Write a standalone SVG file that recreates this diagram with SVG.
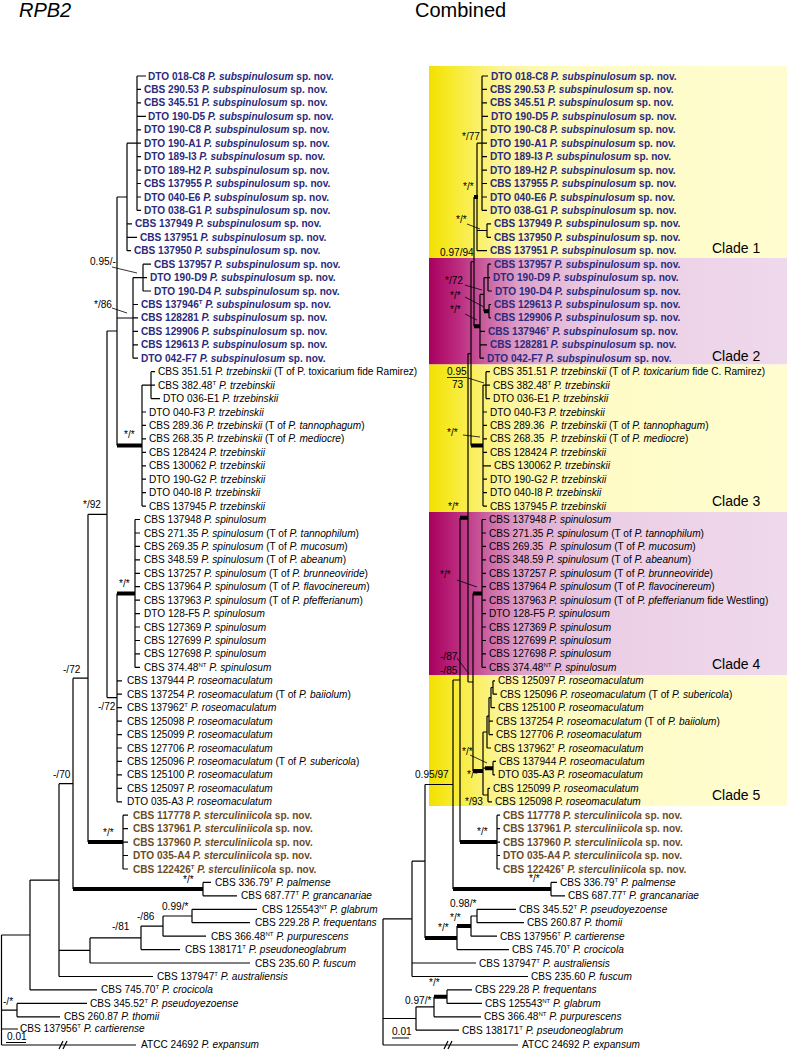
<svg xmlns="http://www.w3.org/2000/svg" width="787" height="1051" viewBox="0 0 787 1051">
<style>
.t{font-family:"Liberation Sans",Arial,sans-serif;font-size:10.1px;fill:#000}
.bl{font-weight:bold;fill:#2b2a7c}
.br{font-weight:bold;fill:#6d4c1f}
.i{font-style:italic}
.sp{font-size:6px}
.ttl{font-family:"Liberation Sans",Arial,sans-serif;font-size:20px;fill:#000}
.cl{font-family:"Liberation Sans",Arial,sans-serif;font-size:14px;fill:#000}
.e{stroke:#000;stroke-width:1.2;fill:none}
.k{stroke:#000;stroke-width:4;fill:none}
.ld{stroke:#000;stroke-width:0.8;fill:none}
</style>
<defs>
<linearGradient id="gy" gradientUnits="userSpaceOnUse" x1="429" y1="0" x2="787" y2="0">
<stop offset="0" stop-color="#f2e000"/><stop offset="0.06" stop-color="#f7ea2a"/><stop offset="0.2" stop-color="#fcf59a"/><stop offset="0.4" stop-color="#fefbc4"/><stop offset="1" stop-color="#fffdd0"/>
</linearGradient>
<linearGradient id="gm" gradientUnits="userSpaceOnUse" x1="429" y1="0" x2="787" y2="0">
<stop offset="0" stop-color="#a8005f"/><stop offset="0.08" stop-color="#bb2a7e"/><stop offset="0.25" stop-color="#dca0c8"/><stop offset="0.45" stop-color="#ebcde4"/><stop offset="1" stop-color="#efd9ec"/>
</linearGradient>
</defs>
<rect width="787" height="1051" fill="#fff"/>
<g id="bands">
<rect x="429" y="66" width="358" height="192" fill="url(#gy)"/>
<rect x="429" y="258" width="358" height="106.5" fill="url(#gm)"/>
<rect x="429" y="364.5" width="358" height="147.5" fill="url(#gy)"/>
<rect x="429" y="512" width="358" height="163" fill="url(#gm)"/>
<rect x="429" y="675" width="358" height="131" fill="url(#gy)"/>
</g>
<g id="titles">
<text class="ttl i" x="19" y="17">RPB2</text>
<text class="ttl" x="415" y="17">Combined</text>
<text class="cl" x="712" y="253">Clade 1</text>
<text class="cl" x="712" y="361">Clade 2</text>
<text class="cl" x="712" y="506">Clade 3</text>
<text class="cl" x="712" y="669">Clade 4</text>
<text class="cl" x="712" y="800">Clade 5</text>
</g>
<g id="connectors">
<path class="e" d="M137 76V210.4M137 76H146M137 89.4H141M137 102.9H141M137 116.3H146M137 129.8H141M137 143.2H141M137 156.6H141M137 170.1H141M137 183.5H141M137 197H141M137 210.4H141M127 143.2H137
M127 143.2V250.7M127 223.8H132M127 237.3H137M127 250.7H131M117 197H127
M143 264.2V291M143 264.2H151M143 277.6H147M143 291H151M133 277.6H143
M133 277.6V358.2M133 304.5H138M133 317.9H138M133 331.4H138M133 344.8H138M133 358.2H138M117 318H133
M151 371.7V398.6M151 371.7H155M151 385.1H155M151 398.6H160M142 385.1H151
M142 385.1V506.1M142 412H146M142 425.4H146M142 438.9H146M142 452.3H146M142 465.8H146M142 479.2H146M142 492.6H146M142 506.1H146
M117 197V445.6M107 331H117
M135 519.5V667.4M135 533H140M135 546.4H140M135 559.8H140M135 573.3H140M135 586.7H140M135 600.2H140M135 613.6H140M135 627H140M135 640.5H140M135 653.9H140M135 667.4H140M135 519.5H140
M117 593.4V801.8M117 680.8H122M117 694.2H122M117 707.7H122M117 721.1H122M117 734.6H122M117 748H122M117 761.4H122M117 774.9H122M117 788.3H122M117 801.8H122M107 697.6H117
M107 331V697.6M88 514.3H107
M123 815.2V869M123 815.2H128M123 828.6H128M123 842.1H128M123 855.5H128M123 869H128
M88 514.3V842.1M73 678.2H88
M203 882.4V895.8M203 882.4H211M203 895.8H237
M73 678.2V889.1M59 783.7H73
M192 909.3V922.7M192 909.3H257M192 922.7H250
M163 916V936.2M163 916H192M163 936.2H206
M141 926.1V949.6M141 926.1H163M141 949.6H180
M90 937.9V963M90 937.9H141M90 963H250
M59 783.7V976.5M59 950.4H90M59 976.5H153
M30 880.1V989.9M30 880.1H59M30 989.9H97
M17 1003.4V1016.8M17 1003.4H87M17 1016.8H60
M1.5 935V1045M1.5 935H30M1.5 1010.1H17M1.5 1029H18M1.5 1045H136
M59 1049L63 1041M63 1049L67 1041M6 1042.5H26"/>
<path class="k" d="M117 445.6H142M117 593.4H135M88 842.1H123M73 889.1H203"/>
<path class="e" d="M482 76V210.4M482 76H488M482 89.4H487M482 102.9H487M482 116.3H488M482 129.8H487M482 143.2H487M482 156.6H487M482 170.1H487M482 183.5H487M482 197H487M482 210.4H487M477 143.2H482
M487 223.8V237.3M487 223.8H491M487 237.3H491M477 230.5H487
M477 143.2V250.7M477 250.7H487
M488 264.2V291M488 264.2H491M488 277.6H490M488 291H492M484 277.6H488
M489 304.5V317.9M489 304.5H491M489 317.9H491
M484 277.6V311.2M480 294.4H484
M480 294.4V358.2M480 331.4H485M480 344.8H487M480 358.2H484
M474 197V326.3M471 261.7H474
M486 371.7V398.6M486 371.7H490M486 385.1H490M486 398.6H490M483 385.1H486
M483 385.1V506.1M483 412H487M483 425.4H487M483 438.9H487M483 452.3H487M483 465.8H491M483 479.2H487M483 492.6H487M483 506.1H487
M471 261.7V445.6M468 353.6H471
M482 519.5V667.4M482 519.5H486M482 533H486M482 546.4H486M482 559.8H486M482 573.3H486M482 586.7H486M482 600.2H486M482 613.6H486M482 627H486M482 640.5H486M482 653.9H486M482 667.4H486
M493 680.8V694.2M493 680.8H495M493 694.2H497M491 687.5H493
M491 687.5V707.7M491 707.7H495M489 697.6H491
M489 697.6V734.6M489 721.1H493M489 734.6H493M487 716.1H489
M487 716.1V748M487 748H491M483 732H487
M493 761.4V774.9M493 761.4H496M493 774.9H495M483 768.2H485
M488 788.3V801.8M488 788.3H490M488 801.8H492M483 795H488
M483 732V795
M473 593.4V771M468 682H473
M468 353.6V682
M497 815.2V869M497 815.2H500M497 828.6H500M497 842.1H500M497 855.5H500M497 869H500
M460 517.8V842.1M453 680H460
M551 882.4V895.8M551 882.4H557M551 895.8H565
M453 680V889.1M425 784.5H453
M477 909.3V922.7M477 909.3H516M477 922.7H524
M471 916V936.2M471 916H477M471 936.2H497
M457 926.1V949.6M457 949.6H509
M425 784.5V937.9M412 861.2H425
M412 861.2V976.5M412 963H476M412 976.5H528M383 918.9H412
M447 989.9V1003.4M447 989.9H472M447 1003.4H482
M434 996.7V1016.8M434 1016.8H481M416 1006.8H434
M416 1006.8V1030.2M416 1030.2H459M383 1018.5H416
M383 918.9V1045M383 1045H518
M444 1049L448 1041M448 1049L452 1041M392 1038H409"/>
<path class="k" d="M474 197H478M484 311.2H489M474 326.3H480M471 445.6H483M473 593.4H482M485 768.2H493M473 771H483M460 517.8H468M460 842.1H497M453 889.1H551M457 926.1H471M425 937.9H457M434 996.7H447"/>
<path class="ld" d="M112 267L137 273M112 308L127 313M467 224L480 229M465 285L482 290M465 297L484 307M465 314L477 320M468 378L484 383M463 435L480 437M457 580L477 587M457 658L469 674M470 755L487 763"/>
</g>
<g id="supports" class="t">
<text x="90" y="265">0.95/-</text>
<text x="94" y="308">*/86</text>
<text x="124" y="438">*/*</text>
<text x="83" y="508">*/92</text>
<text x="119" y="587">*/*</text>
<text x="63" y="673">-/72</text>
<text x="98" y="710">-/72</text>
<text x="53" y="778">-/70</text>
<text x="103" y="836">*/*</text>
<text x="183" y="883">*/*</text>
<text x="162" y="910">0.99/*</text>
<text x="137" y="920">-/86</text>
<text x="112" y="930">-/81</text>
<text x="3" y="1005">-/*</text>
<text x="7" y="1040">0.01</text>
<text x="462" y="140">*/77</text>
<text x="463" y="190">*/*</text>
<text x="456" y="223">*/*</text>
<text x="440" y="256">0.97/94</text>
<text x="445" y="284">*/72</text>
<text x="450" y="299">*/*</text>
<text x="450" y="313">*/*</text>
<text x="447" y="375">0.95</text>
<path class="ld" d="M447 377.5H467"/>
<text x="452" y="388">73</text>
<text x="447" y="436">*/*</text>
<text x="448" y="510">*/*</text>
<text x="440" y="578">*/*</text>
<text x="440" y="660">-/87</text>
<text x="440" y="674">-/85</text>
<text x="462" y="755">*/*</text>
<text x="415" y="778">0.95/97</text>
<text x="467" y="778">*/*</text>
<text x="465" y="805">*/93</text>
<text x="477" y="835">*/*</text>
<text x="529" y="882">*/*</text>
<text x="450" y="907">0.98/*</text>
<text x="450" y="921">*/*</text>
<text x="438" y="931">*/*</text>
<text x="429" y="986">*/*</text>
<text x="405" y="1004">0.97/*</text>
<text x="392" y="1035">0.01</text>
</g>
<g id="left-taxa">
<g id="L00"><text class="t bl" x="148" y="79.5">DTO 018-C8 <tspan class="i">P. subspinulosum</tspan> sp. nov.</text></g>
<g id="L01"><text class="t bl" x="144" y="92.9">CBS 290.53 <tspan class="i">P. subspinulosum</tspan> sp. nov.</text></g>
<g id="L02"><text class="t bl" x="144" y="106.4">CBS 345.51 <tspan class="i">P. subspinulosum</tspan> sp. nov.</text></g>
<g id="L03"><text class="t bl" x="148" y="119.8">DTO 190-D5 <tspan class="i">P. subspinulosum</tspan> sp. nov.</text></g>
<g id="L04"><text class="t bl" x="144" y="133.3">DTO 190-C8 <tspan class="i">P. subspinulosum</tspan> sp. nov.</text></g>
<g id="L05"><text class="t bl" x="144" y="146.7">DTO 190-A1 <tspan class="i">P. subspinulosum</tspan> sp. nov.</text></g>
<g id="L06"><text class="t bl" x="144" y="160.1">DTO 189-I3 <tspan class="i">P. subspinulosum</tspan> sp. nov.</text></g>
<g id="L07"><text class="t bl" x="144" y="173.6">DTO 189-H2 <tspan class="i">P. subspinulosum</tspan> sp. nov.</text></g>
<g id="L08"><text class="t bl" x="144" y="187">CBS 137955 <tspan class="i">P. subspinulosum</tspan> sp. nov.</text></g>
<g id="L09"><text class="t bl" x="144" y="200.5">DTO 040-E6 <tspan class="i">P. subspinulosum</tspan> sp. nov.</text></g>
<g id="L10"><text class="t bl" x="144" y="213.9">DTO 038-G1 <tspan class="i">P. subspinulosum</tspan> sp. nov.</text></g>
<g id="L11"><text class="t bl" x="135" y="227.3">CBS 137949 <tspan class="i">P. subspinulosum</tspan> sp. nov.</text></g>
<g id="L12"><text class="t bl" x="140" y="240.8">CBS 137951 <tspan class="i">P. subspinulosum</tspan> sp. nov.</text></g>
<g id="L13"><text class="t bl" x="134" y="254.2">CBS 137950 <tspan class="i">P. subspinulosum</tspan> sp. nov.</text></g>
<g id="L14"><text class="t bl" x="154" y="267.7">CBS 137957 <tspan class="i">P. subspinulosum</tspan> sp. nov.</text></g>
<g id="L15"><text class="t bl" x="150" y="281.1">DTO 190-D9 <tspan class="i">P. subspinulosum</tspan> sp. nov.</text></g>
<g id="L16"><text class="t bl" x="154" y="294.5">DTO 190-D4 <tspan class="i">P. subspinulosum</tspan> sp. nov.</text></g>
<g id="L17"><text class="t bl" x="141" y="308">CBS 137946<tspan class="sp" dy="-4">T</tspan><tspan dy="4"> <tspan class="i">P. subspinulosum</tspan> sp. nov.</tspan></text></g>
<g id="L18"><text class="t bl" x="141" y="321.4">CBS 128281 <tspan class="i">P. subspinulosum</tspan> sp. nov.</text></g>
<g id="L19"><text class="t bl" x="141" y="334.9">CBS 129906 <tspan class="i">P. subspinulosum</tspan> sp. nov.</text></g>
<g id="L20"><text class="t bl" x="141" y="348.3">CBS 129613 <tspan class="i">P. subspinulosum</tspan> sp. nov.</text></g>
<g id="L21"><text class="t bl" x="141" y="361.7">DTO 042-F7 <tspan class="i">P. subspinulosum</tspan> sp. nov.</text></g>
<g id="L22"><text class="t" x="158" y="375.2">CBS 351.51 <tspan class="i">P. trzebinskii</tspan> (T of P. toxicarium fide Ramirez)</text></g>
<g id="L23"><text class="t" x="158" y="388.6">CBS 382.48<tspan class="sp" dy="-4">T</tspan><tspan dy="4"> <tspan class="i">P. trzebinskii</tspan></tspan></text></g>
<g id="L24"><text class="t" x="163" y="402.1">DTO 036-E1 <tspan class="i">P. trzebinskii</tspan></text></g>
<g id="L25"><text class="t" x="149" y="415.5">DTO 040-F3 <tspan class="i">P. trzebinskii</tspan></text></g>
<g id="L26"><text class="t" x="149" y="428.9">CBS 289.36 <tspan class="i">P. trzebinskii</tspan> (T of <tspan class="i">P. tannophagum</tspan>)</text></g>
<g id="L27"><text class="t" x="149" y="442.4">CBS 268.35 <tspan class="i">P. trzebinskii</tspan> (T of <tspan class="i">P. mediocre</tspan>)</text></g>
<g id="L28"><text class="t" x="149" y="455.8">CBS 128424 <tspan class="i">P. trzebinskii</tspan></text></g>
<g id="L29"><text class="t" x="149" y="469.3">CBS 130062 <tspan class="i">P. trzebinskii</tspan></text></g>
<g id="L30"><text class="t" x="149" y="482.7">DTO 190-G2 <tspan class="i">P. trzebinskii</tspan></text></g>
<g id="L31"><text class="t" x="149" y="496.1">DTO 040-I8 <tspan class="i">P. trzebinskii</tspan></text></g>
<g id="L32"><text class="t" x="149" y="509.6">CBS 137945 <tspan class="i">P. trzebinskii</tspan></text></g>
<g id="L33"><text class="t" x="144" y="523">CBS 137948 <tspan class="i">P. spinulosum</tspan></text></g>
<g id="L34"><text class="t" x="144" y="536.5">CBS 271.35 <tspan class="i">P. spinulosum</tspan> (T of <tspan class="i">P. tannophilum</tspan>)</text></g>
<g id="L35"><text class="t" x="144" y="549.9">CBS 269.35 <tspan class="i">P. spinulosum</tspan> (T of <tspan class="i">P. mucosum</tspan>)</text></g>
<g id="L36"><text class="t" x="144" y="563.3">CBS 348.59 <tspan class="i">P. spinulosum</tspan> (T of <tspan class="i">P. abeanum</tspan>)</text></g>
<g id="L37"><text class="t" x="144" y="576.8">CBS 137257 <tspan class="i">P. spinulosum</tspan> (T of <tspan class="i">P. brunneoviride</tspan>)</text></g>
<g id="L38"><text class="t" x="144" y="590.2">CBS 137964 <tspan class="i">P. spinulosum</tspan> (T of <tspan class="i">P. flavocinereum</tspan>)</text></g>
<g id="L39"><text class="t" x="144" y="603.7">CBS 137963 <tspan class="i">P. spinulosum</tspan> (T of <tspan class="i">P. pfefferianum</tspan>)</text></g>
<g id="L40"><text class="t" x="144" y="617.1">DTO 128-F5 <tspan class="i">P. spinulosum</tspan></text></g>
<g id="L41"><text class="t" x="144" y="630.5">CBS 127369 <tspan class="i">P. spinulosum</tspan></text></g>
<g id="L42"><text class="t" x="144" y="644">CBS 127699 <tspan class="i">P. spinulosum</tspan></text></g>
<g id="L43"><text class="t" x="144" y="657.4">CBS 127698 <tspan class="i">P. spinulosum</tspan></text></g>
<g id="L44"><text class="t" x="144" y="670.9">CBS 374.48<tspan class="sp" dy="-4">NT</tspan><tspan dy="4"> <tspan class="i">P. spinulosum</tspan></tspan></text></g>
<g id="L45"><text class="t" x="127" y="684.3">CBS 137944 <tspan class="i">P. roseomaculatum</tspan></text></g>
<g id="L46"><text class="t" x="127" y="697.7">CBS 137254 <tspan class="i">P. roseomaculatum</tspan> (T of <tspan class="i">P. baiiolum</tspan>)</text></g>
<g id="L47"><text class="t" x="127" y="711.2">CBS 137962<tspan class="sp" dy="-4">T</tspan><tspan dy="4"> <tspan class="i">P. roseomaculatum</tspan></tspan></text></g>
<g id="L48"><text class="t" x="127" y="724.6">CBS 125098 <tspan class="i">P. roseomaculatum</tspan></text></g>
<g id="L49"><text class="t" x="127" y="738.1">CBS 125099 <tspan class="i">P. roseomaculatum</tspan></text></g>
<g id="L50"><text class="t" x="127" y="751.5">CBS 127706 <tspan class="i">P. roseomaculatum</tspan></text></g>
<g id="L51"><text class="t" x="127" y="764.9">CBS 125096 <tspan class="i">P. roseomaculatum</tspan> (T of <tspan class="i">P. subericola</tspan>)</text></g>
<g id="L52"><text class="t" x="127" y="778.4">CBS 125100 <tspan class="i">P. roseomaculatum</tspan></text></g>
<g id="L53"><text class="t" x="127" y="791.8">CBS 125097 <tspan class="i">P. roseomaculatum</tspan></text></g>
<g id="L54"><text class="t" x="127" y="805.3">DTO 035-A3 <tspan class="i">P. roseomaculatum</tspan></text></g>
<g id="L55"><text class="t br" x="133" y="818.7">CBS 117778 <tspan class="i">P. sterculiniicola</tspan> sp. nov.</text></g>
<g id="L56"><text class="t br" x="133" y="832.1">CBS 137961 <tspan class="i">P. sterculiniicola</tspan> sp. nov.</text></g>
<g id="L57"><text class="t br" x="133" y="845.6">CBS 137960 <tspan class="i">P. sterculiniicola</tspan> sp. nov.</text></g>
<g id="L58"><text class="t br" x="133" y="859">DTO 035-A4 <tspan class="i">P. sterculiniicola</tspan> sp. nov.</text></g>
<g id="L59"><text class="t br" x="133" y="872.5">CBS 122426<tspan class="sp" dy="-4">T</tspan><tspan dy="4"> <tspan class="i">P. sterculiniicola</tspan> sp. nov.</tspan></text></g>
<g id="L60"><text class="t" x="215" y="885.9">CBS 336.79<tspan class="sp" dy="-4">T</tspan><tspan dy="4"> <tspan class="i">P. palmense</tspan></tspan></text></g>
<g id="L61"><text class="t" x="241" y="899.3">CBS 687.77<tspan class="sp" dy="-4">T</tspan><tspan dy="4"> <tspan class="i">P. grancanariae</tspan></tspan></text></g>
<g id="L62"><text class="t" x="262" y="912.8">CBS 125543<tspan class="sp" dy="-4">NT</tspan><tspan dy="4"> <tspan class="i">P. glabrum</tspan></tspan></text></g>
<g id="L63"><text class="t" x="255" y="926.2">CBS 229.28 <tspan class="i">P. frequentans</tspan></text></g>
<g id="L64"><text class="t" x="211" y="939.7">CBS 366.48<tspan class="sp" dy="-4">NT</tspan><tspan dy="4"> <tspan class="i">P. purpurescens</tspan></tspan></text></g>
<g id="L65"><text class="t" x="185" y="953.1">CBS 138171<tspan class="sp" dy="-4">T</tspan><tspan dy="4"> <tspan class="i">P. pseudoneoglabrum</tspan></tspan></text></g>
<g id="L66"><text class="t" x="255" y="966.5">CBS 235.60 <tspan class="i">P. fuscum</tspan></text></g>
<g id="L67"><text class="t" x="157" y="980">CBS 137947<tspan class="sp" dy="-4">T</tspan><tspan dy="4"> <tspan class="i">P. australiensis</tspan></tspan></text></g>
<g id="L68"><text class="t" x="101" y="993.4">CBS 745.70<tspan class="sp" dy="-4">T</tspan><tspan dy="4"> <tspan class="i">P. crocicola</tspan></tspan></text></g>
<g id="L69"><text class="t" x="90" y="1006.9">CBS 345.52<tspan class="sp" dy="-4">T</tspan><tspan dy="4"> <tspan class="i">P. pseudoyezoense</tspan></tspan></text></g>
<g id="L70"><text class="t" x="64" y="1020.3">CBS 260.87 <tspan class="i">P. thomii</tspan></text></g>
<g id="L71"><text class="t" x="20" y="1032">CBS 137956<tspan class="sp" dy="-4">T</tspan><tspan dy="4"> <tspan class="i">P. cartierense</tspan></tspan></text></g>
<g id="L72"><text class="t" x="141" y="1048">ATCC 24692 <tspan class="i">P. expansum</tspan></text></g>
</g>
<g id="right-taxa">
<g id="R00"><text class="t bl" x="491" y="79.5">DTO 018-C8 <tspan class="i">P. subspinulosum</tspan> sp. nov.</text></g>
<g id="R01"><text class="t bl" x="490" y="92.9">CBS 290.53 <tspan class="i">P. subspinulosum</tspan> sp. nov.</text></g>
<g id="R02"><text class="t bl" x="490" y="106.4">CBS 345.51 <tspan class="i">P. subspinulosum</tspan> sp. nov.</text></g>
<g id="R03"><text class="t bl" x="491" y="119.8">DTO 190-D5 <tspan class="i">P. subspinulosum</tspan> sp. nov.</text></g>
<g id="R04"><text class="t bl" x="490" y="133.3">DTO 190-C8 <tspan class="i">P. subspinulosum</tspan> sp. nov.</text></g>
<g id="R05"><text class="t bl" x="490" y="146.7">DTO 190-A1 <tspan class="i">P. subspinulosum</tspan> sp. nov.</text></g>
<g id="R06"><text class="t bl" x="490" y="160.1">DTO 189-I3 <tspan class="i">P. subspinulosum</tspan> sp. nov.</text></g>
<g id="R07"><text class="t bl" x="490" y="173.6">DTO 189-H2 <tspan class="i">P. subspinulosum</tspan> sp. nov.</text></g>
<g id="R08"><text class="t bl" x="490" y="187">CBS 137955 <tspan class="i">P. subspinulosum</tspan> sp. nov.</text></g>
<g id="R09"><text class="t bl" x="490" y="200.5">DTO 040-E6 <tspan class="i">P. subspinulosum</tspan> sp. nov.</text></g>
<g id="R10"><text class="t bl" x="490" y="213.9">DTO 038-G1 <tspan class="i">P. subspinulosum</tspan> sp. nov.</text></g>
<g id="R11"><text class="t bl" x="494" y="227.3">CBS 137949 <tspan class="i">P. subspinulosum</tspan> sp. nov.</text></g>
<g id="R12"><text class="t bl" x="494" y="240.8">CBS 137950 <tspan class="i">P. subspinulosum</tspan> sp. nov.</text></g>
<g id="R13"><text class="t bl" x="490" y="254.2">CBS 137951 <tspan class="i">P. subspinulosum</tspan> sp. nov.</text></g>
<g id="R14"><text class="t bl" x="494" y="267.7">CBS 137957 <tspan class="i">P. subspinulosum</tspan> sp. nov.</text></g>
<g id="R15"><text class="t bl" x="493" y="281.1">DTO 190-D9 <tspan class="i">P. subspinulosum</tspan> sp. nov.</text></g>
<g id="R16"><text class="t bl" x="495" y="294.5">DTO 190-D4 <tspan class="i">P. subspinulosum</tspan> sp. nov.</text></g>
<g id="R17"><text class="t bl" x="494" y="308">CBS 129613 <tspan class="i">P. subspinulosum</tspan> sp. nov.</text></g>
<g id="R18"><text class="t bl" x="494" y="321.4">CBS 129906 <tspan class="i">P. subspinulosum</tspan> sp. nov.</text></g>
<g id="R19"><text class="t bl" x="488" y="334.9">CBS 137946<tspan class="sp" dy="-4">T</tspan><tspan dy="4"> <tspan class="i">P. subspinulosum</tspan> sp. nov.</tspan></text></g>
<g id="R20"><text class="t bl" x="490" y="348.3">CBS 128281 <tspan class="i">P. subspinulosum</tspan> sp. nov.</text></g>
<g id="R21"><text class="t bl" x="487" y="361.7">DTO 042-F7 <tspan class="i">P. subspinulosum</tspan> sp. nov.</text></g>
<g id="R22"><text class="t" x="493" y="375.2">CBS 351.51 <tspan class="i">P. trzebinskii</tspan> (T of <tspan class="i">P. toxicarium</tspan> fide C. Ramirez)</text></g>
<g id="R23"><text class="t" x="493" y="388.6">CBS 382.48<tspan class="sp" dy="-4">T</tspan><tspan dy="4"> <tspan class="i">P. trzebinskii</tspan></tspan></text></g>
<g id="R24"><text class="t" x="493" y="402.1">DTO 036-E1 <tspan class="i">P. trzebinskii</tspan></text></g>
<g id="R25"><text class="t" x="490" y="415.5">DTO 040-F3 <tspan class="i">P. trzebinskii</tspan></text></g>
<g id="R26"><text class="t" x="490" y="428.9">CBS 289.36 <tspan class="i" dx="3">P. trzebinskii</tspan> (T of <tspan class="i">P. tannophagum</tspan>)</text></g>
<g id="R27"><text class="t" x="490" y="442.4">CBS 268.35 <tspan class="i" dx="3">P. trzebinskii</tspan> (T of <tspan class="i">P. mediocre</tspan>)</text></g>
<g id="R28"><text class="t" x="490" y="455.8">CBS 128424 <tspan class="i">P. trzebinskii</tspan></text></g>
<g id="R29"><text class="t" x="494" y="469.3">CBS 130062 <tspan class="i">P. trzebinskii</tspan></text></g>
<g id="R30"><text class="t" x="490" y="482.7">DTO 190-G2 <tspan class="i">P. trzebinskii</tspan></text></g>
<g id="R31"><text class="t" x="490" y="496.1">DTO 040-I8 <tspan class="i">P. trzebinskii</tspan></text></g>
<g id="R32"><text class="t" x="490" y="509.6">CBS 137945 <tspan class="i">P. trzebinskii</tspan></text></g>
<g id="R33"><text class="t" x="489" y="523">CBS 137948 <tspan class="i">P. spinulosum</tspan></text></g>
<g id="R34"><text class="t" x="489" y="536.5">CBS 271.35 <tspan class="i">P. spinulosum</tspan> (T of <tspan class="i">P. tannophilum</tspan>)</text></g>
<g id="R35"><text class="t" x="489" y="549.9">CBS 269.35 <tspan class="i" dx="3">P. spinulosum</tspan> (T of <tspan class="i">P. mucosum</tspan>)</text></g>
<g id="R36"><text class="t" x="489" y="563.3">CBS 348.59 <tspan class="i">P. spinulosum</tspan> (T of <tspan class="i">P. abeanum</tspan>)</text></g>
<g id="R37"><text class="t" x="489" y="576.8">CBS 137257 <tspan class="i">P. spinulosum</tspan> (T of <tspan class="i">P. brunneoviride</tspan>)</text></g>
<g id="R38"><text class="t" x="489" y="590.2">CBS 137964 <tspan class="i">P. spinulosum</tspan> (T of <tspan class="i">P. flavocinereum</tspan>)</text></g>
<g id="R39"><text class="t" x="489" y="603.7">CBS 137963 <tspan class="i">P. spinulosum</tspan> (T of <tspan class="i">P. pfefferianum</tspan> fide Westling)</text></g>
<g id="R40"><text class="t" x="489" y="617.1">DTO 128-F5 <tspan class="i">P. spinulosum</tspan></text></g>
<g id="R41"><text class="t" x="489" y="630.5">CBS 127369 <tspan class="i">P. spinulosum</tspan></text></g>
<g id="R42"><text class="t" x="489" y="644">CBS 127699 <tspan class="i">P. spinulosum</tspan></text></g>
<g id="R43"><text class="t" x="489" y="657.4">CBS 127698 <tspan class="i">P. spinulosum</tspan></text></g>
<g id="R44"><text class="t" x="489" y="670.9">CBS 374.48<tspan class="sp" dy="-4">NT</tspan><tspan dy="4"> <tspan class="i">P. spinulosum</tspan></tspan></text></g>
<g id="R45"><text class="t" x="498" y="684.3">CBS 125097 <tspan class="i">P. roseomaculatum</tspan></text></g>
<g id="R46"><text class="t" x="500" y="697.7">CBS 125096 <tspan class="i">P. roseomaculatum</tspan> (T of <tspan class="i">P. subericola</tspan>)</text></g>
<g id="R47"><text class="t" x="498" y="711.2">CBS 125100 <tspan class="i">P. roseomaculatum</tspan></text></g>
<g id="R48"><text class="t" x="496" y="724.6">CBS 137254 <tspan class="i">P. roseomaculatum</tspan> (T of <tspan class="i">P. baiiolum</tspan>)</text></g>
<g id="R49"><text class="t" x="496" y="738.1">CBS 127706 <tspan class="i">P. roseomaculatum</tspan></text></g>
<g id="R50"><text class="t" x="494" y="751.5">CBS 137962<tspan class="sp" dy="-4">T</tspan><tspan dy="4"> <tspan class="i">P. roseomaculatum</tspan></tspan></text></g>
<g id="R51"><text class="t" x="499" y="764.9">CBS 137944 <tspan class="i">P. roseomaculatum</tspan></text></g>
<g id="R52"><text class="t" x="498" y="778.4">DTO 035-A3 <tspan class="i">P. roseomaculatum</tspan></text></g>
<g id="R53"><text class="t" x="493" y="791.8">CBS 125099 <tspan class="i">P. roseomaculatum</tspan></text></g>
<g id="R54"><text class="t" x="495" y="805.3">CBS 125098 <tspan class="i">P. roseomaculatum</tspan></text></g>
<g id="R55"><text class="t br" x="503" y="818.7">CBS 117778 <tspan class="i">P. sterculiniicola</tspan> sp. nov.</text></g>
<g id="R56"><text class="t br" x="503" y="832.1">CBS 137961 <tspan class="i">P. sterculiniicola</tspan> sp. nov.</text></g>
<g id="R57"><text class="t br" x="503" y="845.6">CBS 137960 <tspan class="i">P. sterculiniicola</tspan> sp. nov.</text></g>
<g id="R58"><text class="t br" x="503" y="859">DTO 035-A4 <tspan class="i">P. sterculiniicola</tspan> sp. nov.</text></g>
<g id="R59"><text class="t br" x="503" y="872.5">CBS 122426<tspan class="sp" dy="-4">T</tspan><tspan dy="4"> <tspan class="i">P. sterculiniicola</tspan> sp. nov.</tspan></text></g>
<g id="R60"><text class="t" x="560" y="885.9">CBS 336.79<tspan class="sp" dy="-4">T</tspan><tspan dy="4"> <tspan class="i">P. palmense</tspan></tspan></text></g>
<g id="R61"><text class="t" x="568" y="899.3">CBS 687.77<tspan class="sp" dy="-4">T</tspan><tspan dy="4"> <tspan class="i">P. grancanariae</tspan></tspan></text></g>
<g id="R62"><text class="t" x="519" y="912.8">CBS 345.52<tspan class="sp" dy="-4">T</tspan><tspan dy="4"> <tspan class="i">P. pseudoyezoense</tspan></tspan></text></g>
<g id="R63"><text class="t" x="527" y="926.2">CBS 260.87 <tspan class="i">P. thomii</tspan></text></g>
<g id="R64"><text class="t" x="500" y="939.7">CBS 137956<tspan class="sp" dy="-4">T</tspan><tspan dy="4"> <tspan class="i">P. cartierense</tspan></tspan></text></g>
<g id="R65"><text class="t" x="512" y="953.1">CBS 745.70<tspan class="sp" dy="-4">T</tspan><tspan dy="4"> <tspan class="i">P. crocicola</tspan></tspan></text></g>
<g id="R66"><text class="t" x="479" y="966.5">CBS 137947<tspan class="sp" dy="-4">T</tspan><tspan dy="4"> <tspan class="i">P. australiensis</tspan></tspan></text></g>
<g id="R67"><text class="t" x="531" y="980">CBS 235.60 <tspan class="i">P. fuscum</tspan></text></g>
<g id="R68"><text class="t" x="475" y="993.4">CBS 229.28 <tspan class="i">P. frequentans</tspan></text></g>
<g id="R69"><text class="t" x="485" y="1006.9">CBS 125543<tspan class="sp" dy="-4">NT</tspan><tspan dy="4"> <tspan class="i">P. glabrum</tspan></tspan></text></g>
<g id="R70"><text class="t" x="484" y="1020.3">CBS 366.48<tspan class="sp" dy="-4">NT</tspan><tspan dy="4"> <tspan class="i">P. purpurescens</tspan></tspan></text></g>
<g id="R71"><text class="t" x="462" y="1033.7">CBS 138171<tspan class="sp" dy="-4">T</tspan><tspan dy="4"> <tspan class="i">P. pseudoneoglabrum</tspan></tspan></text></g>
<g id="R72"><text class="t" x="522" y="1048">ATCC 24692 <tspan class="i">P. expansum</tspan></text></g>
</g>
</svg>
